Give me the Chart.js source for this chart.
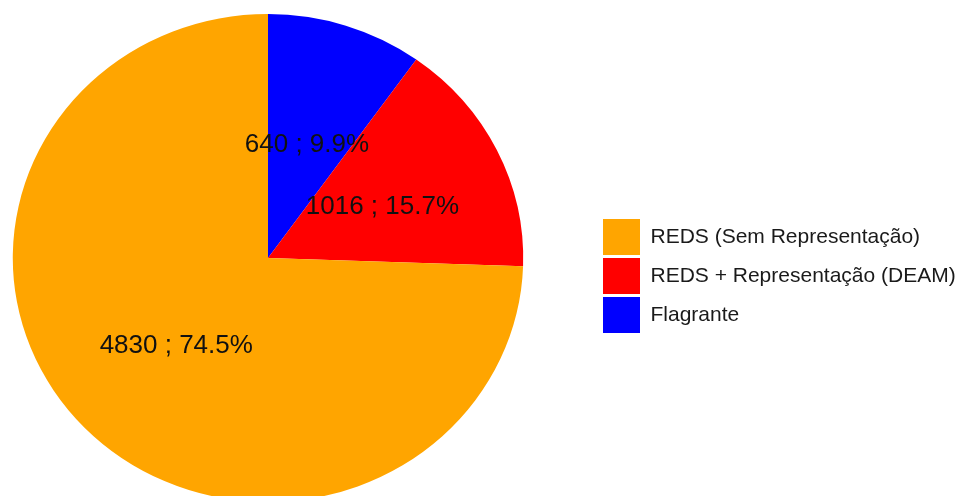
<!DOCTYPE html>
<html>
<head>
<meta charset="utf-8">
<script src="https://cdn.jsdelivr.net/npm/chart.js@4.4.1/dist/chart.umd.min.js"></script>
<style>
  html, body { margin: 0; padding: 0; background: #ffffff; overflow: hidden; width: 961px; height: 496px; }
  #wrap { position: absolute; left: -64px; top: 0; width: 1060px; height: 496px; }
</style>
</head>
<body>
<div id="wrap"><canvas id="c" width="1060" height="496"></canvas></div>
<script>
// ---- data (clockwise from 12 o'clock) ----
const categories = ['Flagrante', 'REDS + Representação (DEAM)', 'REDS (Sem Representação)'];
const counts = [640, 1016, 4830];
const sliceColors = ['#0000FF', '#FF0000', '#FFA500'];

const total = counts.reduce((a, b) => a + b, 0);
const SX = 1.046; // horizontal stretch of the reference pie
const FONT_FAMILY = '"Liberation Sans", Arial, sans-serif';
const LEGEND_FONT = 21, BOX_W = 37, BOX_H = 36, LEG_PAD = 3;
const CANVAS_W = 1060, CHART_RIGHT = 664;

// measure legend text so the pie area ends exactly where the legend starts
const mctx = document.createElement('canvas').getContext('2d');
mctx.font = LEGEND_FONT + 'px ' + FONT_FAMILY;
const maxTextW = Math.max(...categories.map(t => mctx.measureText(t).width));
const legendW = LEG_PAD + BOX_W + LEGEND_FONT / 2 + maxTextW + 10;
const padRight = Math.max(0, CANVAS_W - CHART_RIGHT - legendW);

const stretchPlugin = {
  id: 'stretch',
  beforeDatasetsDraw(chart) {
    const arc = chart.getDatasetMeta(0).data[0];
    const ctx = chart.ctx;
    ctx.save();
    ctx.translate(arc.x, arc.y);
    ctx.scale(SX, 1);
    ctx.translate(-arc.x, -arc.y);
  },
  afterDatasetsDraw(chart) {
    const ctx = chart.ctx;
    ctx.restore();
    const meta = chart.getDatasetMeta(0);
    const fs = 26;
    ctx.save();
    ctx.font = fs + 'px ' + FONT_FAMILY;
    ctx.fillStyle = '#111111';
    ctx.textAlign = 'center';
    ctx.textBaseline = 'alphabetic';
    meta.data.forEach((arc, i) => {
      const p = arc.getProps(['x', 'y', 'startAngle', 'endAngle', 'outerRadius'], true);
      const mid = (p.startAngle + p.endAngle) / 2;
      const r = p.outerRadius / 2;
      const x = p.x + Math.cos(mid) * r * SX;
      const y = p.y + Math.sin(mid) * r;
      const pct = (counts[i] / total * 100).toFixed(1);
      ctx.fillText(counts[i] + ' ; ' + pct + '%', x, y + fs * 0.36 + 1);
    });
    ctx.restore();
  }
};

new Chart(document.getElementById('c'), {
  type: 'pie',
  data: {
    labels: categories,
    datasets: [{
      data: counts,
      backgroundColor: sliceColors,
      borderWidth: 0,
      hoverOffset: 0
    }]
  },
  options: {
    responsive: false,
    animation: false,
    devicePixelRatio: 1,
    radius: 244,
    layout: { padding: { left: 0, top: 20, bottom: 0, right: padRight } },
    plugins: {
      tooltip: { enabled: false },
      legend: {
        position: 'right',
        align: 'center',
        reverse: true,
        title: { display: true, text: '', font: { size: 10, lineHeight: 1 }, padding: { top: 26, bottom: 0 } },
        labels: {
          boxWidth: BOX_W,
          boxHeight: BOX_H,
          padding: LEG_PAD,
          color: '#1a1a1a',
          font: { family: FONT_FAMILY, size: LEGEND_FONT }
        }
      }
    }
  },
  plugins: [stretchPlugin]
});
</script>
</body>
</html>
